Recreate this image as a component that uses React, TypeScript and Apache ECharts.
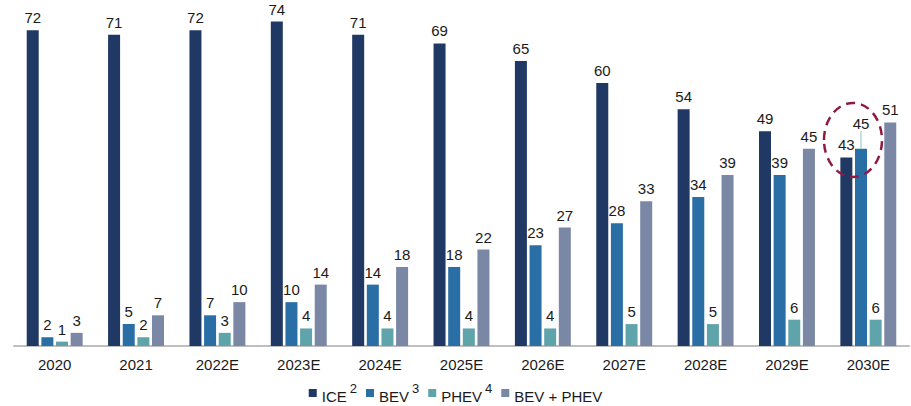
import React, { useEffect, useRef } from "react";
import * as echarts from "echarts";

const categories = ["2020", "2021", "2022E", "2023E", "2024E", "2025E", "2026E", "2027E", "2028E", "2029E", "2030E"];
const iceValues = [72, 71, 72, 74, 71, 69, 65, 60, 54, 49, 43];
const bevValues = [2, 5, 7, 10, 14, 18, 23, 28, 34, 39, 45];
const phevValues = [1, 2, 3, 4, 4, 4, 4, 5, 5, 6, 6];
const bevPhevValues = [3, 7, 10, 14, 18, 22, 27, 33, 39, 45, 51];
const seriesNames = ["ICE", "BEV", "PHEV", "BEV + PHEV"];
const superscripts: Record<string, string> = { ICE: "2", BEV: "3", PHEV: "4" };

const FONT = "'Liberation Sans', Arial, sans-serif";
const colors = ["#1f3864", "#2a6ea6", "#5fa4ab", "#7a88a6"];

export default function App() {
  const ref = useRef<HTMLDivElement>(null);
  useEffect(() => {
    document.body.style.margin = "0";
    if (!ref.current) return;
    const chart = echarts.init(ref.current, undefined, { renderer: "svg" });
    const label = {
      show: true,
      position: "top" as const,
      distance: 5,
      color: "#1a1a1a",
      fontSize: 15,
      fontFamily: FONT,
    };
    const mk = (name: string, data: any[], color: string, extra?: any) => ({
      name,
      type: "bar" as const,
      data,
      barWidth: 12,
      barGap: "22%",
      itemStyle: { color },
      label,
      ...extra,
    });
    const lastIdx = bevValues.length - 1;
    const bevData = bevValues.map((v, i) =>
      i === lastIdx
        ? { value: v, labelLine: { show: true, lineStyle: { color: "#8fc3cf", width: 1 } } }
        : { value: v, labelLine: { show: false } }
    );
    chart.setOption({
      animation: false,
      textStyle: { fontFamily: FONT },
      grid: { left: 14, right: 2, top: 4, bottom: 60, containLabel: false },
      legend: {
        bottom: 2,
        left: "center",
        padding: 0,
        icon: "rect",
        itemWidth: 8,
        itemHeight: 8,
        itemGap: 9,
        data: seriesNames,
        formatter: (n: string) =>
          superscripts[n] ? `{t|${n}}{s|${superscripts[n]}}` : `{u|${n}}`,
        textStyle: {
          fontFamily: FONT,
          color: "#1a1a1a",
          rich: {
            t: { fontSize: 15, fontFamily: FONT, color: "#1a1a1a", padding: [7, 0, 0, 0] },
            u: { fontSize: 15, fontFamily: FONT, color: "#1a1a1a", padding: [7, 0, 0, 0] },
            s: { fontSize: 13, fontFamily: FONT, color: "#1a1a1a", verticalAlign: "top", padding: [0, 0, 0, 3] },
          },
        },
      },
      xAxis: {
        type: "category",
        data: categories,
        axisLine: { lineStyle: { color: "#bfbfbf", width: 2 } },
        axisTick: { show: false },
        axisLabel: { color: "#1a1a1a", fontSize: 15, fontFamily: FONT, margin: 11 },
      },
      yAxis: {
        type: "value",
        min: 0,
        max: 78,
        show: false,
        splitLine: { show: false },
      },
      series: [
        mk("ICE", iceValues, colors[0]),
        mk("BEV", bevData, colors[1], {
          labelLayout: (p: any) => (p.dataIndex === lastIdx ? { dy: -13 } : {}),
        }),
        mk("PHEV", phevValues, colors[2]),
        mk("BEV + PHEV", bevPhevValues, colors[3]),
      ],
      graphic: [
        {
          type: "ellipse",
          shape: { cx: 853, cy: 140, rx: 29, ry: 37 },
          style: { fill: "none", stroke: "#8f1b45", lineWidth: 2.5, lineDash: [9, 6] },
          z: 100,
        },
      ],
    });
    return () => chart.dispose();
  }, []);
  return <div ref={ref} style={{ width: 911, height: 406 }} />;
}
